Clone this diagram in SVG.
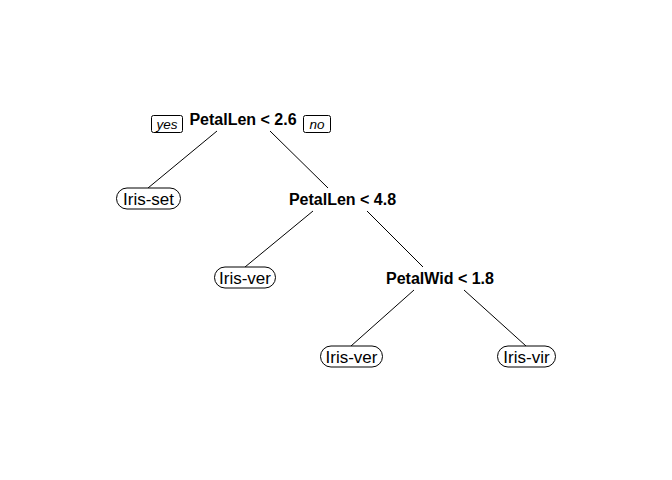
<svg xmlns="http://www.w3.org/2000/svg" width="672" height="480" viewBox="0 0 672 480">
<style>
.split{font-family:"Liberation Sans",Arial,sans-serif;font-size:16px;font-weight:bold;fill:#000;text-anchor:middle}
.leaf text{font-family:"Liberation Sans",Arial,sans-serif;font-size:17px;fill:#000;text-anchor:middle}
.leaf rect{fill:#fff;stroke:#000;stroke-width:1}
.yn rect{fill:#fff;stroke:#000;stroke-width:1}
.yn text{font-family:"Liberation Sans",Arial,sans-serif;font-size:13.5px;font-style:italic;fill:#000;text-anchor:middle}
#edges line{stroke:#000;stroke-width:1}
</style>
<rect width="672" height="480" fill="#fff"/>
<g id="edges">
<line x1="217" y1="131" x2="148" y2="188"/>
<line x1="270" y1="131" x2="328" y2="188"/>
<line x1="313" y1="211" x2="245" y2="267"/>
<line x1="367" y1="211" x2="423" y2="267"/>
<line x1="414" y1="290" x2="351" y2="346"/>
<line x1="464" y1="290" x2="526" y2="346"/>
</g>
<g id="yes" class="yn"><rect x="151.5" y="115.5" width="31" height="17" rx="2"/><text x="167" y="128.5">yes</text></g>
<g id="no" class="yn"><rect x="303.5" y="115.5" width="27" height="17" rx="2"/><text x="317" y="128.5">no</text></g>
<g id="n1"><text class="split" x="243" y="125">PetalLen &lt; 2.6</text></g>
<g id="n2" class="leaf"><rect x="116.5" y="188" width="64" height="21" rx="10.5"/><text x="148.5" y="204.5">Iris-set</text></g>
<g id="n3"><text class="split" x="342.5" y="204.5">PetalLen &lt; 4.8</text></g>
<g id="n4" class="leaf"><rect x="214.5" y="267" width="61" height="21" rx="10.5"/><text x="245" y="283.5">Iris-ver</text></g>
<g id="n5"><text class="split" x="440" y="283.5">PetalWid &lt; 1.8</text></g>
<g id="n6" class="leaf"><rect x="320.5" y="346" width="62" height="21" rx="10.5"/><text x="351.5" y="362.5">Iris-ver</text></g>
<g id="n7" class="leaf"><rect x="497.5" y="346" width="58" height="21" rx="10.5"/><text x="526.5" y="362.5">Iris-vir</text></g>
</svg>
